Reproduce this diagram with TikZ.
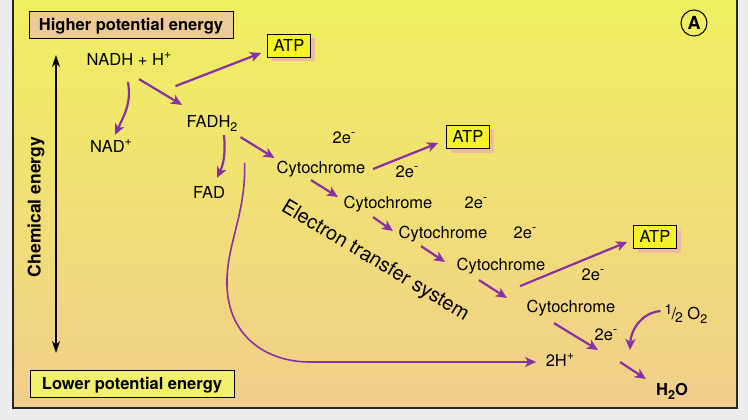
\documentclass[tikz,border=0pt]{standalone}
\usepackage{fontspec}
\setmainfont{TeX Gyre Heros}
\usetikzlibrary{arrows.meta,calc,shadows}

% raised and lowered marks, larger than \textsuperscript
\newcommand{\upmark}[1]{\raisebox{0.42em}{\fontsize{12.5}{13}\selectfont #1}}
\newcommand{\downmark}[1]{\raisebox{-0.22em}{\fontsize{12.5}{13}\selectfont #1}}
\newcommand{\halfmark}{\raisebox{0.3em}{\fontsize{14}{14}\selectfont 1}\kern-1pt/\kern-1pt\raisebox{-0.15em}{\fontsize{14}{14}\selectfont 2}}

\begin{document}
\begin{tikzpicture}[x=1pt,y=1pt,
    lbl/.style={inner sep=0pt, text height=11.8pt, text depth=0pt, font=\fontsize{16.5}{19}\selectfont},
    energybox/.style={draw=black, line width=0.8pt, minimum width=204pt, minimum height=27pt, inner sep=0pt, text height=11.8pt, text depth=0pt, font=\fontsize{16.5}{19}\selectfont\bfseries},
    atpbox/.style={lbl, draw=black, line width=0.8pt, fill=atpfill, minimum width=43pt, minimum height=23pt, drop shadow={shadow xshift=4pt, shadow yshift=-4pt, fill=atpshadow, opacity=1}},
    flow/.style={draw=flowpurple, line width=2.2pt, -{Stealth[length=11pt,width=10pt,inset=3pt]}},
  ]
    % Define colors
    \definecolor{pagegrey}{RGB}{236, 236, 238}
    \definecolor{bgtop}{RGB}{240, 240, 96}
    \definecolor{bgmid}{RGB}{242, 228, 116}
    \definecolor{bgbot}{RGB}{241, 206, 140}
    \definecolor{highfill}{RGB}{236, 202, 152}
    \definecolor{lowfill}{RGB}{240, 240, 108}
    \definecolor{atpfill}{RGB}{246, 242, 40}
    \definecolor{atpshadow}{RGB}{238, 188, 155}
    \definecolor{flowpurple}{RGB}{138, 48, 165}

    % Page and panel
    \useasboundingbox (0,0) rectangle (748,-420);
    \fill[pagegrey] (0,0) rectangle (748,-420);
    \shade[top color=bgtop, middle color=bgmid, bottom color=bgbot] (13,2) rectangle (737,-408);
    \draw[line width=1.3pt, black!85] (13,2) rectangle (737,-408);

    % Energy scale
    \node[energybox, fill=highfill] (high) at (131,-25) {Higher potential energy};
    \node[energybox, fill=lowfill] (low) at (132,-384) {Lower potential energy};
    \coordinate (chemtop) at (56,-55);
    \coordinate (chembot) at (56,-353);
    \draw[line width=1.6pt, {Stealth[length=12pt,width=8pt]}-{Stealth[length=12pt,width=8pt]}] (chemtop) -- (chembot);
    \node[rotate=90, inner sep=0pt, font=\fontsize{17.5}{20}\selectfont\bfseries] (chem) at (36,-207) {Chemical energy};

    % Panel tag
    \node[circle, draw, line width=1pt, minimum size=26pt, inner sep=0pt, font=\fontsize{18}{20}\selectfont\bfseries] (tag) at (694,-23) {A};

    % Carriers
    \node[lbl] (nadh) at (129,-60) {NADH + H\upmark{+}};
    \node[lbl] (nad) at (111,-147) {NAD\upmark{+}};
    \node[lbl] (fadh) at (212,-122) {FADH\downmark{2}};
    \node[lbl] (fad) at (209,-193) {FAD};

    % Cytochromes
    \node[lbl] (cyta) at (321,-168) {Cytochrome};
    \node[lbl] (cytb) at (388,-203) {Cytochrome};
    \node[lbl] (cytc) at (443,-233) {Cytochrome};
    \node[lbl] (cytd) at (501,-265) {Cytochrome};
    \node[lbl] (cyte) at (571,-307) {Cytochrome};

    % ATP
    \node[atpbox] (atpa) at (289,-46) {ATP};
    \node[atpbox] (atpb) at (468,-137) {ATP};
    \node[atpbox] (atpc) at (655,-237) {ATP};

    % Electron pairs
    \node[lbl] (ea) at (344,-138) {2e\upmark{-}};
    \node[lbl] (eb) at (407,-172) {2e\upmark{-}};
    \node[lbl] (ec) at (476,-203) {2e\upmark{-}};
    \node[lbl] (ed) at (525,-233) {2e\upmark{-}};
    \node[lbl] (ee) at (593,-275) {2e\upmark{-}};
    \node[lbl] (ef) at (606,-335) {2e\upmark{-}};

    % Water formation
    \node[lbl] (twoh) at (560,-361) {2H\upmark{+}};
    \node[lbl] (halfo) at (686,-314) {\halfmark\ O\downmark{2}};
    \node[lbl, font=\fontsize{16.5}{19}\selectfont\bfseries] (water) at (672,-390) {H\downmark{\bfseries 2}O};
    \coordinate (meet) at (618,-357);

    \node[rotate=-31, inner sep=0pt, font=\fontsize{20}{22}\selectfont] (ets) at (375,-261) {Electron transfer system};

    % Arrows
    \draw[flow] ($(nadh.south)+(-1,-16)$) to[out=-80, in=65] ($(nad.north)+(4,6)$);
    \draw[flow] ($(nadh.south)+(10,-13)$) -- ($(fadh.north)+(-30,11)$);
    \draw[flow] ($(nadh.south east)+(4,-20)$) -- ($(atpa.west)+(-6,-7)$);
    \draw[flow] ($(fadh.south)+(12,-7)$) to[out=-85, in=65] ($(fad.north)+(8,9)$);
    \draw[flow] ($(fadh.south east)+(3,-9)$) -- ($(cyta.west)+(-2,10)$);
    \draw[flow] ($(cyta.east)+(7.5,-1)$) -- ($(atpb.west)+(-8,-6)$);
    \draw[flow] ($(cyta.south)+(-10,-6)$) -- ($(cytb.west)+(-5.5,6)$);
    \draw[flow] ($(cytb.south)+(-15,-8)$) -- ($(cytc.west)+(-5.5,2)$);
    \draw[flow] ($(cytc.south)+(-22,-7)$) -- ($(cytd.west)+(-11.5,3)$);
    \draw[flow] ($(cytd.south)+(-22,-9)$) -- ($(cyte.west)+(-19.5,9)$);
    \draw[flow] ($(cytd.south)+(19,-15)$) -- ($(atpc.west)+(-6,-5)$);
    \draw[flow] ($(cyte.south)+(-17,-10)$) -- ($(meet)+(-20,7)$);
    \draw[flow] ($(halfo.west)+(-4,3)$) to[out=185, in=88] ($(meet)+(12,7)$);
    \draw[flow] ($(meet)+(2,-5)$) -- ($(water.west)+(-10,11)$);
    \draw[flow, line width=1.6pt] ($(fad.north east)+(19.5,24)$) .. controls (246,-215) and (226,-245) .. (227,-285)
        .. controls (228,-335) and (265,-362) .. (310,-362) -- ($(twoh.west)+(-9.5,-1)$);

\end{tikzpicture}
\end{document}
